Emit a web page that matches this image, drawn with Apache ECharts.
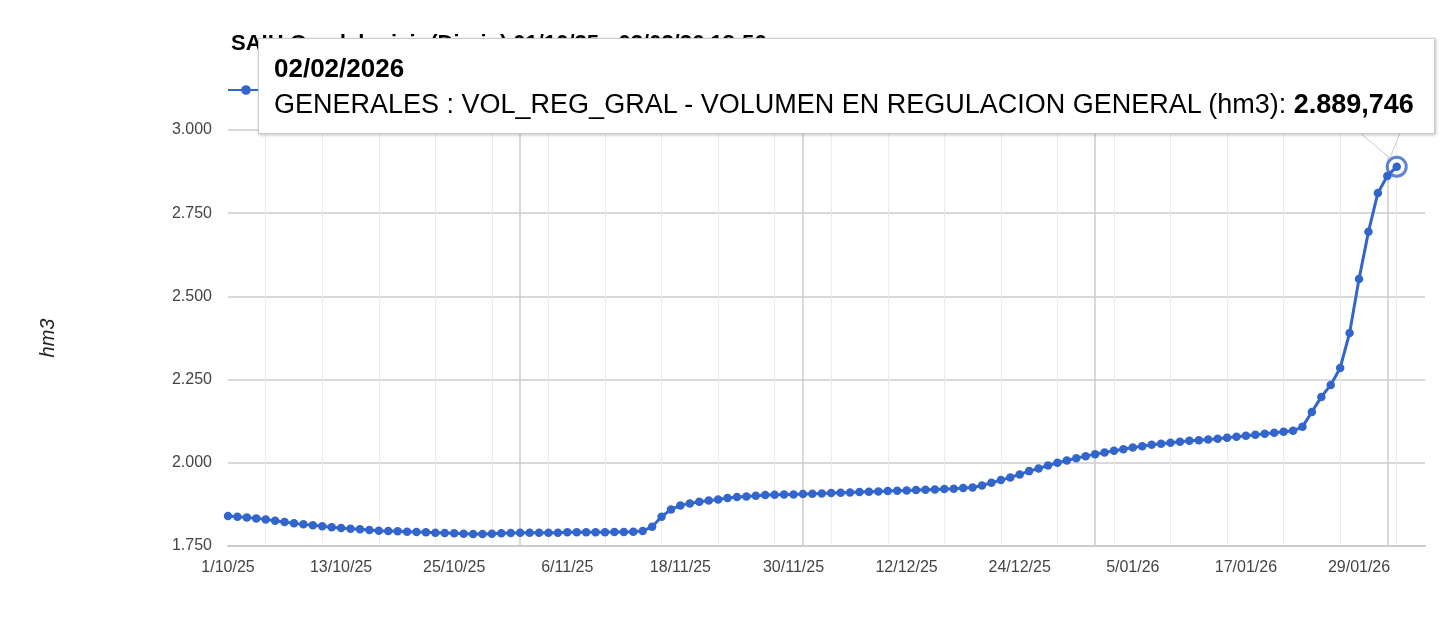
<!DOCTYPE html>
<html>
<head>
<meta charset="utf-8">
<script src="https://cdn.jsdelivr.net/npm/echarts@6/dist/echarts.min.js"></script>
<style>html,body{margin:0;padding:0;background:#fff}#chart{width:1440px;height:625px}</style>
</head>
<body>
<div id="chart"></div>
<script>
// daily values, hm3, 1/10/25 .. 2/02/26
var octValues = [1840,1838,1836,1833,1830,1826,1822,1818,1815,1812,1809,1806,1804,1802,1800,1798,1796,1795,1794,1793,1792,1791,1790,1789,1788,1787,1786,1786,1787,1788,1789];
var novValues = [1790,1790,1790,1790,1790,1791,1791,1791,1791,1791,1792,1792,1793,1795,1808,1838,1860,1872,1878,1883,1887,1890,1894,1897,1899,1901,1903,1904,1905,1905];
var decValues = [1906,1907,1908,1909,1910,1911,1912,1913,1914,1915,1916,1917,1918,1919,1920,1921,1922,1924,1926,1932,1940,1948,1956,1965,1975,1983,1992,2000,2007,2014,2020];
var janFebValues = [2026,2031,2036,2041,2046,2050,2054,2057,2060,2063,2066,2068,2070,2072,2075,2078,2081,2084,2087,2090,2093,2096,
  2108,2153,2198,2234,2285,2390,2552,2694,2811,2862,2889.746];
var values = octValues.concat(novValues, decValues, janFebValues);
var axisPadDays = 3; // axis runs a little past the last reading

var startDate = new Date(2025, 9, 1);
var categories = [];
for (var i = 0; i < values.length + axisPadDays; i++) {
  categories.push(new Date(startDate.getFullYear(), startDate.getMonth(), startDate.getDate() + i));
}
function pad(n){ return n < 10 ? '0' + n : '' + n; }
var labels = categories.map(function(d){ return d.getDate() + '/' + pad(d.getMonth()+1) + '/' + String(d.getFullYear()).slice(2); });
var fullLabels = categories.map(function(d){ return pad(d.getDate()) + '/' + pad(d.getMonth()+1) + '/' + d.getFullYear(); });

function fmtThousands(v, dec){
  var parts = v.toFixed(dec).split('.');
  var s = parts[0].replace(/\B(?=(\d{3})+(?!\d))/g, '.');
  return parts.length > 1 ? s + ',' + parts[1] : s;
}

var font = 'Liberation Sans, Arial, sans-serif';
var chart = echarts.init(document.getElementById('chart'));
var lastIdx = values.length - 1;
var scatterData = values.map(function(v, i){ return i === lastIdx ? v : '-'; });

chart.setOption({
  animation: false,
  title: {
    text: 'SAIH Guadalquivir (Diario) 01/10/25 - 02/02/26 18:56',
    left: 226, top: 28,
    textStyle: {fontFamily: font, fontSize: 22, fontWeight: 'bold', color: '#000'}
  },
  legend: {
    left: 222, top: 76, itemWidth: 36, itemHeight: 12,
    data: [{name: 'GENERALES : VOL_REG_GRAL - VOLUMEN EN REGULACION GENERAL (hm3)'}],
    textStyle: {fontFamily: font, fontSize: 18, color: '#222'}
  },
  grid: {left: 228, right: 15, top: 130, bottom: 79},
  tooltip: {
    trigger: 'item',
    alwaysShowContent: true,
    position: [258, 38],
    backgroundColor: '#fff',
    borderColor: '#ccc',
    borderWidth: 1,
    padding: [12, 20, 10, 15],
    extraCssText: 'box-shadow:1px 1px 3px rgba(0,0,0,0.25);border-radius:0;',
    textStyle: {fontFamily: font, fontSize: 26, color: '#000'},
    formatter: function(p){
      return '<div style="font-weight:bold;line-height:34px">' + fullLabels[p.dataIndex] + '</div>' +
        '<div style="line-height:38px;font-size:27px">GENERALES : VOL_REG_GRAL - VOLUMEN EN REGULACION GENERAL (hm3): <b>' +
        fmtThousands(values[p.dataIndex], 3) + '</b></div>';
    }
  },
  xAxis: [{
    type: 'category', data: labels, boundaryGap: false,
    axisLine: {lineStyle: {color: '#ccc', width: 2}},
    axisTick: {show: false},
    axisLabel: {interval: 11, color: '#444', fontFamily: font, fontSize: 16, margin: 14},
    splitLine: {show: true, interval: function(i){ return categories[i].getDate() === 1 && i > 0; }, lineStyle: {color: '#ccc', width: 1.5}}
  }, {
    type: 'category', data: labels, boundaryGap: false, position: 'bottom',
    axisLine: {show: false}, axisTick: {show: false}, axisLabel: {show: false},
    splitLine: {show: true, interval: function(i){ return i % 6 === 4 && categories[i].getDate() !== 1; }, lineStyle: {color: '#ebebeb', width: 1}}
  }],
  yAxis: {
    type: 'value', min: 1750, max: 3000, interval: 250,
    name: 'hm3', nameLocation: 'middle', nameGap: 170, nameRotate: 90,
    nameTextStyle: {fontFamily: font, fontSize: 20, fontStyle: 'italic', color: '#222'},
    axisLine: {show: false}, axisTick: {show: false},
    axisLabel: {color: '#444', fontFamily: font, fontSize: 16, margin: 16, formatter: function(v){ return fmtThousands(v, 0); }},
    splitLine: {lineStyle: {color: '#ccc', width: 1.5}}
  },
  series: [{
    name: 'GENERALES : VOL_REG_GRAL - VOLUMEN EN REGULACION GENERAL (hm3)',
    type: 'line', data: values, symbol: 'circle', symbolSize: 8.5, showSymbol: true, showAllSymbol: true,
    lineStyle: {color: '#3366cc', width: 3},
    itemStyle: {color: '#3366cc'},
    z: 3
  }, {
    type: 'scatter', data: scatterData, symbolSize: 19,
    itemStyle: {color: '#fff', borderColor: '#3366cc', borderWidth: 3},
    tooltip: {show: false}, z: 2, silent: true
  }],
  graphic: [{
    type: 'polygon', z: 100,
    shape: {points: [[1360, 133], [1390, 158], [1400, 133]]},
    style: {fill: '#fff', stroke: '#ccc', lineWidth: 1}
  }, {
    type: 'line', z: 101,
    shape: {x1: 1361, y1: 133, x2: 1399, y2: 133},
    style: {stroke: '#fff', lineWidth: 2}
  }]
});
setTimeout(function(){
  chart.dispatchAction({type: 'showTip', seriesIndex: 0, dataIndex: lastIdx});
}, 0);
</script>
</body>
</html>
